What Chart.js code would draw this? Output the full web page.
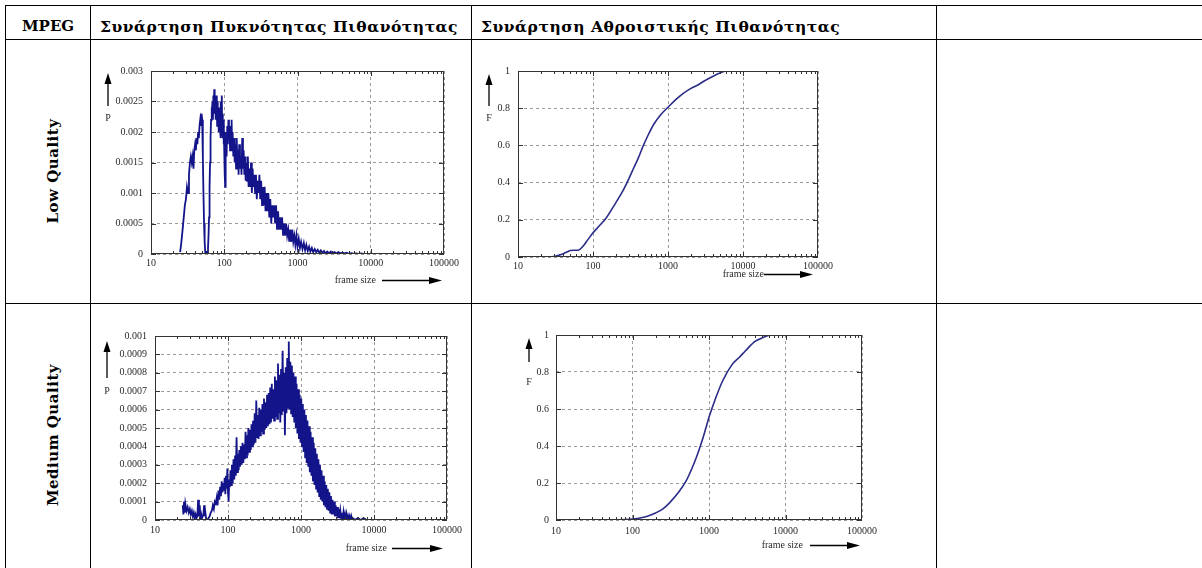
<!DOCTYPE html>
<html>
<head>
<meta charset="utf-8">
<script src="https://cdn.jsdelivr.net/npm/chart.js@4.4.1/dist/chart.umd.min.js"></script>
<style>
  html, body { margin: 0; padding: 0; background: #fff; width: 1202px; height: 568px; overflow: hidden; }
  .rule { position: absolute; background: #000; }
  .hd { position: absolute; top: 19px; line-height: 15px; font-family: "DejaVu Serif"; font-weight: bold; font-size: 15px; color: #000; white-space: nowrap; }
  .hd.gr { top: 18.5px; font-size: 15.5px; letter-spacing: 0.55px; }
  .rowlab { position: absolute; font-family: "DejaVu Serif"; font-weight: bold; font-size: 15px; letter-spacing: 0.5px; color: #000; white-space: nowrap; transform: translate(-50%, -50%) rotate(-90deg); }
  canvas.plot { position: absolute; filter: blur(0.35px); }
</style>
</head>
<body>
<!-- table rules -->
<div class="rule" style="left:5px;top:5px;width:1197px;height:1px"></div>
<div class="rule" style="left:5px;top:39px;width:1197px;height:1px"></div>
<div class="rule" style="left:5px;top:303px;width:1197px;height:1px"></div>
<div class="rule" style="left:5px;top:5px;width:1px;height:563px"></div>
<div class="rule" style="left:90px;top:5px;width:1px;height:563px"></div>
<div class="rule" style="left:471px;top:5px;width:1px;height:563px"></div>
<div class="rule" style="left:936px;top:5px;width:1px;height:563px"></div>

<div class="hd" style="left:22px">MPEG</div>
<div class="hd gr" style="left:100px">Συνάρτηση Πυκνότητας Πιθανότητας</div>
<div class="hd gr" style="left:481px">Συνάρτηση Αθροιστικής Πιθανότητας</div>
<div class="rowlab" style="left:53px;top:171px">Low Quality</div>
<div class="rowlab" style="left:53px;top:435px">Medium Quality</div>

<canvas class="plot" id="lowDensity"></canvas>
<canvas class="plot" id="lowCumulative"></canvas>
<canvas class="plot" id="mediumDensity"></canvas>
<canvas class="plot" id="mediumCumulative"></canvas>

<script>
// ---- axis ticks ----
const sizeTickValues = [10, 100, 1000, 10000, 100000];
const sizeTickLabels = ['10', '100', '1000', '10000', '100000'];

const lowDensityTickValues = [0, 0.0005, 0.001, 0.0015, 0.002, 0.0025, 0.003];
const lowDensityTickLabels = ['0', '0.0005', '0.001', '0.0015', '0.002', '0.0025', '0.003'];

const mediumDensityTickValues = [0, 0.0001, 0.0002, 0.0003, 0.0004, 0.0005, 0.0006, 0.0007, 0.0008, 0.0009, 0.001];
const mediumDensityTickLabels = ['0', '0.0001', '0.0002', '0.0003', '0.0004', '0.0005', '0.0006', '0.0007', '0.0008', '0.0009', '0.001'];

const cumulativeTickValues = [0, 0.2, 0.4, 0.6, 0.8, 1];
const cumulativeTickLabels = ['0', '0.2', '0.4', '0.6', '0.8', '1'];

// ---- Low Quality: probability density ----
const lowDensitySize = [
  25, 26, 27, 28, 29, 30, 31, 32, 33, 34,
  35, 36, 37, 38, 39, 40, 41, 42, 43, 44,
  45, 46, 47, 48, 49, 50, 51, 52, 53, 54,
  55, 56, 57, 58, 59, 60, 61, 62, 63, 64,
  65, 66, 67, 68, 69, 70, 71, 72, 73, 74,
  75, 76, 77, 78, 79, 80, 81, 82, 83, 84,
  85, 86, 87, 88, 89, 90, 91, 92, 93, 94,
  95, 96, 97, 98, 99, 100, 101, 102, 103, 104,
  105, 106, 107, 108,
  110, 112, 114, 116, 118, 120, 122, 124, 126, 128, 130,
  133, 136, 139, 142, 145, 148, 151, 154, 157, 160,
  164, 168, 172, 176, 180, 184, 188, 192, 196, 200,
  205, 210, 215, 220, 226, 232, 238, 244, 250,
  257, 264, 271, 278, 286, 294, 302, 310,
  319, 328, 337, 346, 356, 366, 377, 388, 400,
  412, 425, 438, 451, 465, 480, 495, 510,
  526, 543, 560, 578, 597, 616,
  636, 657, 678, 700, 723, 747,
  771, 796, 822, 849, 877,
  906, 936, 967, 1000,
  1040, 1080, 1120, 1170, 1220, 1270,
  1320, 1380, 1440, 1500, 1570, 1640,
  1720, 1800, 1890, 1980, 2080, 2190,
  2300, 2420, 2550, 2700, 2850, 3000,
  3200, 3400, 3600, 3850, 4100,
  4400, 4700, 5000, 5400, 5800,
  6300, 6800, 7400, 8000, 8600
];
const lowDensityP = [
  0.00003, 0.0002, 0.0004, 0.0006, 0.0008, 0.0009, 0.0011, 0.0010, 0.0013, 0.0015,
  0.0016, 0.0015, 0.0016, 0.0014, 0.0017, 0.0018, 0.0017, 0.0019, 0.0018, 0.0020,
  0.0019, 0.0021, 0.0022, 0.0021, 0.0023, 0.0022, 0.0016, 0.0010, 0.0005, 0.0002,
  0.00003, 0, 0, 0.00005, 0, 0.0001, 0.0003, 0.0006, 0.0011, 0.0015,
  0.0019, 0.0022, 0.0024, 0.0023, 0.0025, 0.0022, 0.0026, 0.0023, 0.0027, 0.0024,
  0.0026, 0.0022, 0.0025, 0.0023, 0.0026, 0.0021, 0.0025, 0.0022, 0.0024, 0.0020,
  0.0024, 0.0021, 0.0023, 0.0020, 0.0025, 0.0019, 0.0024, 0.0021, 0.0026, 0.0020,
  0.0023, 0.0019, 0.0022, 0.0018, 0.0021, 0.0017, 0.0020, 0.0013, 0.0011, 0.0016,
  0.0019, 0.0017, 0.0020, 0.0016,
  0.0021, 0.0018, 0.0022, 0.0019, 0.0021, 0.0017, 0.0021, 0.0018, 0.0022, 0.0017, 0.0020,
  0.0016, 0.0019, 0.0015, 0.0018, 0.0014, 0.0019, 0.0015, 0.0017, 0.0013, 0.0018,
  0.0014, 0.0016, 0.0013, 0.0019, 0.0014, 0.0017, 0.0013, 0.0016, 0.0012, 0.0015,
  0.0012, 0.0016, 0.0011, 0.0014, 0.0011, 0.0015, 0.0010, 0.0014, 0.0011,
  0.0013, 0.0010, 0.0013, 0.0009, 0.0012, 0.0010, 0.0013, 0.0009,
  0.0012, 0.0008, 0.0011, 0.0008, 0.0011, 0.0007, 0.0010, 0.0007, 0.0010,
  0.0006, 0.0009, 0.0005, 0.0008, 0.0006, 0.0008, 0.0005, 0.0008,
  0.0004, 0.0007, 0.0004, 0.0006, 0.0004, 0.0006,
  0.0003, 0.0005, 0.0003, 0.0005, 0.0003, 0.0004,
  0.0002, 0.0004, 0.0002, 0.0004, 0.0002,
  0.0003, 0.00015, 0.0003, 0.00012,
  0.00025, 0.0001, 0.0002, 0.00008, 0.00018, 0.00006,
  0.00015, 0.00005, 0.00012, 0.00004, 0.0001, 0.00003,
  0.00008, 0.00003, 0.00007, 0.00002, 0.00006, 0.00002,
  0.00005, 0.00001, 0.00004, 0.00001, 0.00004, 0.00001,
  0.00003, 0.00001, 0.00003, 0.00001, 0.00002,
  0.00001, 0.00002, 0.000005, 0.000015, 0.000005,
  0.00001, 0.000003, 0.000008, 0.000002, 0.000003
];

// ---- Low Quality: cumulative distribution ----
const lowCumulativeSize = [20, 25, 30, 35, 40, 45, 50, 55, 60, 66,
  75, 85, 100, 120, 150, 200, 250, 300, 350, 400,
  470, 550, 650, 800, 1000, 1300, 1600, 2000, 2500, 3000,
  4000, 5000, 6000, 7000];
const lowCumulativeF = [0, 0, 0.002, 0.01, 0.018, 0.027, 0.035, 0.036, 0.036, 0.04,
  0.062, 0.092, 0.13, 0.165, 0.21, 0.29, 0.355, 0.42, 0.48, 0.53,
  0.6, 0.66, 0.715, 0.765, 0.805, 0.85, 0.88, 0.905, 0.925, 0.945,
  0.972, 0.99, 1, 1];

// ---- Medium Quality: probability density ----
const mediumDensitySize = [
  24, 24.5, 25, 25.5, 26, 27, 28, 29, 30, 31,
  32, 33, 34, 35, 36, 37, 38, 39, 40, 41,
  42, 43, 44, 45, 46, 47, 48, 49, 50, 52,
  54, 56, 58, 60, 62, 64, 66, 68, 70, 72,
  74, 76, 78, 80, 82, 84, 86, 88, 90, 92,
  94, 96, 98, 100, 102, 104, 106, 108, 110, 113,
  116, 119, 122, 125, 128, 131, 134, 137, 140, 143,
  146, 150, 154, 158, 162, 166, 170, 174, 178, 182,
  186, 190, 195, 200, 205, 210, 215, 220, 226, 232,
  238, 244, 250, 256, 262, 268, 275, 282, 289, 296,
  303, 311, 319, 327, 335, 343, 352, 361, 370, 379,
  388, 398, 408, 418, 428, 439, 450, 461, 472, 484,
  496, 508, 520, 533, 546, 560, 574, 588, 602, 617,
  632, 648, 664, 680, 697, 714, 732, 750, 769, 788,
  808, 828, 849, 870, 892, 914, 937, 960, 984, 1008,
  1033, 1059, 1085, 1112, 1140, 1168, 1197, 1227, 1258, 1289,
  1321, 1354, 1388, 1422, 1458, 1494, 1531, 1570, 1609, 1649,
  1690, 1732, 1776, 1820, 1865, 1912, 1960, 2009, 2059, 2110,
  2163, 2217, 2273, 2330, 2388, 2447, 2508, 2571, 2635, 2701,
  2769, 2838, 2909, 2982, 3056, 3133, 3211, 3291, 3374, 3458,
  3545, 3633, 3724, 3817, 3913, 4011, 4111, 4214, 4319, 4427,
  4538, 4651, 4767, 4887, 5009, 5134, 5500, 6000, 6600, 7200, 7900
];
const mediumDensityP = [
  0.00008, 0.00003, 0.0001, 0.00004, 0.00009, 0.00005, 0.00007, 0.00004, 0.00006, 0.00003,
  0.00005, 0.00002, 0.00004, 0.00001, 0.00003, 0.00001, 0.00002, 0.00011, 0.00002, 0.00008,
  0.00001, 0.00003, 0.00001, 0.00002, 0.00003, 0.00008, 0.00002, 0.00004, 0.00001, 0,
  0.00001, 0.00002, 0.00004, 0.00005, 0.00008, 0.00006, 0.0001, 0.00009, 0.00012, 0.00008,
  0.00016, 0.00011, 0.00018, 0.00013, 0.00021, 0.00015, 0.0002, 0.00016, 0.00023, 0.00014,
  0.00024, 0.00017, 0.00028, 0.00015, 0.0001, 0.00022, 0.00018, 0.00027, 0.00019, 0.0003,
  0.0002, 0.00033, 0.00022, 0.00035, 0.00024, 0.00045, 0.00026, 0.00036, 0.00027, 0.00038,
  0.00029, 0.0004, 0.0003, 0.00042, 0.00031, 0.00041, 0.00033, 0.00048, 0.00034, 0.00046,
  0.00035, 0.0005, 0.00037, 0.00049, 0.00038, 0.00052, 0.0004, 0.00054, 0.00041, 0.00058,
  0.00042, 0.00065, 0.00045, 0.00057, 0.00044, 0.00061, 0.00046, 0.0006, 0.00048, 0.00063,
  0.00047, 0.00066, 0.00049, 0.00064, 0.0005, 0.00068, 0.00051, 0.00069, 0.00052, 0.00072,
  0.00053, 0.00074, 0.00055, 0.00071, 0.00054, 0.00078, 0.00056, 0.00076, 0.00055, 0.00085,
  0.00058, 0.00079, 0.00053, 0.00082, 0.00057, 0.00092, 0.00059, 0.0008, 0.00046, 0.00083,
  0.00058, 0.00088, 0.00061, 0.00097, 0.0006, 0.00086, 0.00058, 0.00084, 0.00056, 0.0008,
  0.00053, 0.00078, 0.0005, 0.00074, 0.00047, 0.00071, 0.00044, 0.00068, 0.00042, 0.00066,
  0.0004, 0.00063, 0.00037, 0.0006, 0.00034, 0.00057, 0.00031, 0.00054, 0.00029, 0.00051,
  0.00026, 0.00048, 0.00024, 0.00045, 0.00021, 0.00042, 0.00019, 0.00039, 0.00017, 0.00036,
  0.00015, 0.00033, 0.00013, 0.0003, 0.00011, 0.00027, 0.0001, 0.00024, 0.00008, 0.00021,
  0.00007, 0.00019, 0.00006, 0.00017, 0.00005, 0.00015, 0.00004, 0.00013, 0.00003, 0.00011,
  0.00003, 0.0001, 0.00002, 0.00008, 0.00002, 0.00007, 0.00001, 0.00006, 0.00001, 0.00005,
  0.00001, 0.00004, 0, 0.00004, 0, 0.00003, 0, 0.00003, 0, 0.00002,
  0, 0.00002, 0, 0.00002, 0, 0.00001, 0, 0.00001, 0, 0.00001, 0
];

// ---- Medium Quality: cumulative distribution ----
const mediumCumulativeSize = [28, 50, 80, 100, 130, 160, 200, 250, 300, 400,
  500, 600, 700, 800, 900, 1000, 1200, 1500, 2000, 2500,
  3000, 4000, 5000, 6000, 7000, 8000];
const mediumCumulativeF = [0, 0, 0.002, 0.005, 0.012, 0.022, 0.038, 0.06, 0.09, 0.15,
  0.21, 0.28, 0.35, 0.42, 0.49, 0.555, 0.65, 0.75, 0.84, 0.88,
  0.915, 0.965, 0.985, 0.997, 1, 1];

// ---- drawing helpers ----
const TICK_FONT = { family: 'Liberation Serif', size: 10 };
const TEXT_COLOR = '#2a2a2a';

// gnuplot-like frame: closed box, inward ticks, axis names and arrows
const gnuplotFrame = {
  id: 'gnuplotFrame',
  afterDatasetsDraw(chart, args, o) {
    const { ctx, chartArea: a, scales: { x, y } } = chart;
    ctx.save();
    ctx.strokeStyle = '#333';
    ctx.lineWidth = 1;
    ctx.strokeRect(a.left + 0.5, a.top + 0.5, a.right - a.left - 1, a.bottom - a.top - 1);

    ctx.beginPath();
    for (let d = 10; d < 100000; d *= 10) {
      for (let k = 1; k <= 9; k++) {
        const px = Math.round(x.getPixelForValue(d * k)) + 0.5;
        const len = k === 1 ? 5 : 3;
        ctx.moveTo(px, a.bottom); ctx.lineTo(px, a.bottom - len);
        ctx.moveTo(px, a.top); ctx.lineTo(px, a.top + len);
      }
    }
    for (const v of o.yTicks) {
      const py = Math.round(y.getPixelForValue(v)) + 0.5;
      ctx.moveTo(a.left, py); ctx.lineTo(a.left + 5, py);
      ctx.moveTo(a.right, py); ctx.lineTo(a.right - 5, py);
    }
    ctx.stroke();

    // vertical axis name with upward arrow
    ctx.fillStyle = '#000';
    ctx.strokeStyle = '#000';
    ctx.lineWidth = 1.3;
    const ax = a.left + o.upX;
    const t0 = a.top + o.upTop, t1 = a.top + o.upBottom;
    ctx.beginPath();
    ctx.moveTo(ax, t1); ctx.lineTo(ax, t0 + 8);
    ctx.stroke();
    ctx.beginPath();
    ctx.moveTo(ax, t0); ctx.lineTo(ax - 3.5, t0 + 11); ctx.lineTo(ax + 3.5, t0 + 11); ctx.closePath();
    ctx.fill();
    ctx.font = '10px "Liberation Serif"';
    ctx.fillStyle = TEXT_COLOR;
    ctx.textAlign = 'center';
    ctx.textBaseline = 'middle';
    ctx.fillText(o.yName, ax, a.top + o.nameDy);

    // horizontal axis name with rightward arrow
    const yy = a.bottom + o.xNameDy;
    ctx.textAlign = 'right';
    ctx.font = o.xNameFont;
    ctx.fillText('frame size', a.right + o.xNameRight, yy);
    const r0 = a.right + o.arrowFrom, r1 = a.right + o.arrowTo;
    ctx.fillStyle = '#000';
    ctx.beginPath();
    ctx.moveTo(r0, yy + 0.5); ctx.lineTo(r1 - 8, yy + 0.5);
    ctx.stroke();
    ctx.beginPath();
    ctx.moveTo(r1, yy + 0.5); ctx.lineTo(r1 - 13, yy - 3); ctx.lineTo(r1 - 13, yy + 4); ctx.closePath();
    ctx.fill();
    ctx.restore();
  }
};

const PAD = { l: 70, t: 8, r: 30, b: 44 };

function makePlot(id, area, sizes, values, yTickValues, yTickLabels, line, frame) {
  const cv = document.getElementById(id);
  const w = area.right - area.left + PAD.l + PAD.r;
  const h = area.bottom - area.top + PAD.t + PAD.b;
  cv.width = w; cv.height = h;
  cv.style.width = w + 'px'; cv.style.height = h + 'px';
  cv.style.left = (area.left - PAD.l) + 'px';
  cv.style.top = (area.top - PAD.t) + 'px';

  const grid = { color: '#9a9a9a', lineWidth: 1, drawTicks: false };
  const border = { display: false, dash: [3, 3] };

  return new Chart(cv, {
    type: 'scatter',
    data: {
      datasets: [{
        data: sizes.map((s, i) => ({ x: s, y: values[i] })),
        showLine: true,
        borderColor: line.color,
        borderWidth: line.width,
        cubicInterpolationMode: line.smooth ? 'monotone' : 'default',
        tension: 0,
        pointRadius: 0,
        fill: false
      }]
    },
    options: {
      responsive: false,
      animation: false,
      devicePixelRatio: 1,
      layout: { padding: { top: PAD.t, right: PAD.r, left: 0, bottom: 0 } },
      plugins: {
        legend: { display: false },
        tooltip: { enabled: false },
        gnuplotFrame: Object.assign({ yTicks: yTickValues }, frame)
      },
      scales: {
        x: {
          type: 'logarithmic', min: 10, max: 100000,
          afterBuildTicks: s => { s.ticks = sizeTickValues.map(v => ({ value: v })); },
          afterFit: s => { s.height = PAD.b; },
          ticks: { callback: (v, i) => sizeTickLabels[i], font: TICK_FONT, color: TEXT_COLOR,
                   padding: frame.xTickPad, maxRotation: 0, autoSkip: false },
          grid, border
        },
        y: {
          min: yTickValues[0], max: yTickValues[yTickValues.length - 1],
          afterBuildTicks: s => { s.ticks = yTickValues.map(v => ({ value: v })); },
          afterFit: s => { s.width = PAD.l; },
          ticks: { callback: (v, i) => yTickLabels[i], font: TICK_FONT, color: TEXT_COLOR,
                   padding: frame.yTickPad, autoSkip: false },
          grid, border
        }
      }
    },
    plugins: [gnuplotFrame]
  });
}

makePlot('lowDensity', { left: 151, top: 65, right: 444, bottom: 254 },
  lowDensitySize, lowDensityP, lowDensityTickValues, lowDensityTickLabels,
  { color: '#14148a', width: 1.8 },
  { yName: 'P', upX: -43, upTop: 2, upBottom: 35, nameDy: 47,
    xNameDy: 26, xNameRight: -68, arrowFrom: -62, arrowTo: -2,
    xNameFont: '10px "Liberation Serif"', xTickPad: 3, yTickPad: 8 });

makePlot('lowCumulative', { left: 518, top: 65, right: 818, bottom: 257 },
  lowCumulativeSize, lowCumulativeF, cumulativeTickValues, cumulativeTickLabels,
  { color: '#2a2c88', width: 1.6, smooth: true },
  { yName: 'F', upX: -29, upTop: 3, upBottom: 35, nameDy: 47,
    xNameDy: 17, xNameRight: -54, arrowFrom: -54, arrowTo: -5,
    xNameFont: '10px "Liberation Serif"', xTickPad: 3, yTickPad: 8 });

makePlot('mediumDensity', { left: 155, top: 330, right: 447, bottom: 520 },
  mediumDensitySize, mediumDensityP, mediumDensityTickValues, mediumDensityTickLabels,
  { color: '#14148a', width: 1.8 },
  { yName: 'P', upX: -48, upTop: 5, upBottom: 42, nameDy: 55,
    xNameDy: 28, xNameRight: -60, arrowFrom: -55, arrowTo: -4,
    xNameFont: '10px "Liberation Serif"', xTickPad: 4, yTickPad: 8 });

makePlot('mediumCumulative', { left: 556, top: 330, right: 862, bottom: 520 },
  mediumCumulativeSize, mediumCumulativeF, cumulativeTickValues, cumulativeTickLabels,
  { color: '#2a2c88', width: 1.6, smooth: true },
  { yName: 'F', upX: -27, upTop: 3, upBottom: 27, nameDy: 47,
    xNameDy: 25, xNameRight: -59, arrowFrom: -52, arrowTo: -2,
    xNameFont: '10px "Liberation Serif"', xTickPad: 5, yTickPad: 7 });
</script>
</body>
</html>
